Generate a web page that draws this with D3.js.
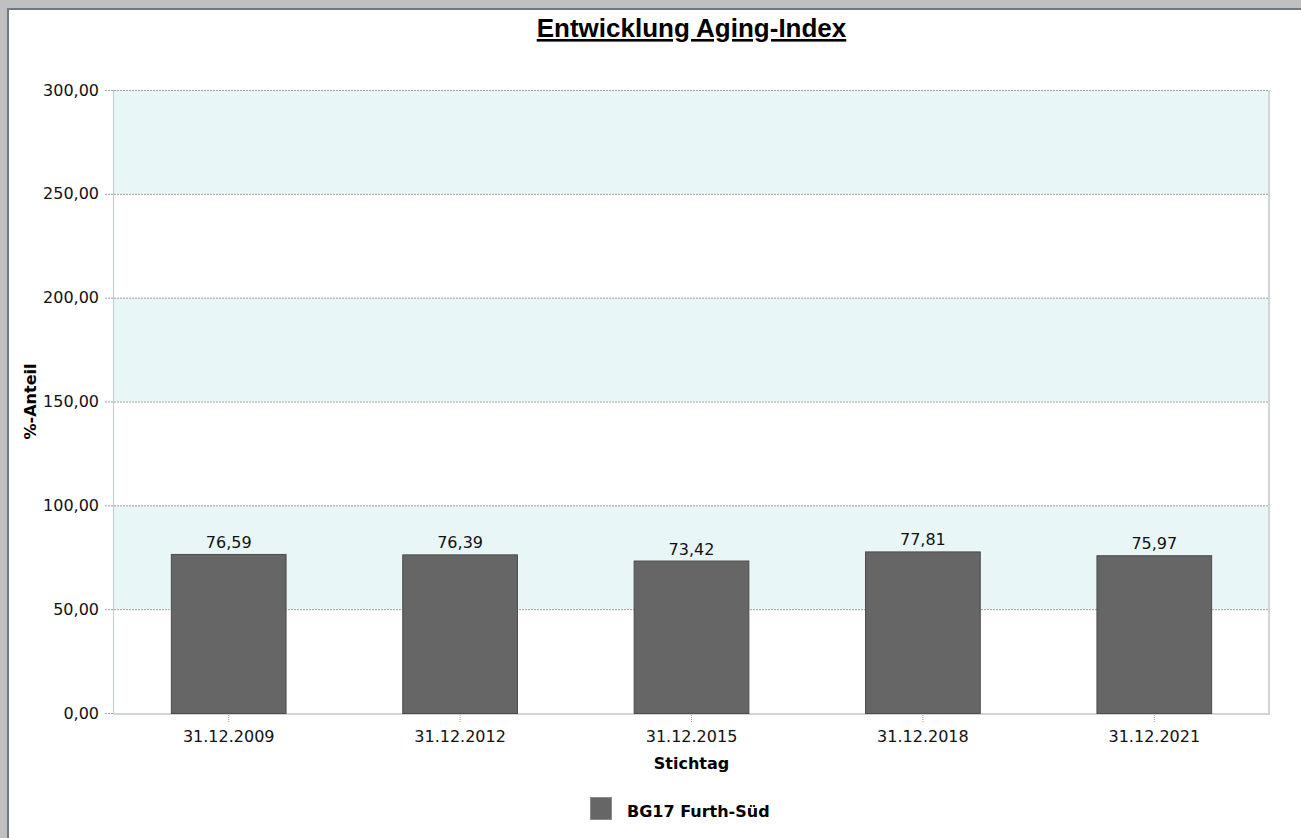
<!DOCTYPE html>
<html>
<head>
<meta charset="utf-8">
<script src="https://cdn.jsdelivr.net/npm/d3@7"></script>
<style>
  html, body { margin: 0; padding: 0; background: #fff; overflow: hidden; }
  text { font-family: "DejaVu Sans", sans-serif; }
</style>
</head>
<body>
<svg id="chart" width="1301" height="838"></svg>
<script>
// chart data
const categories = ["31.12.2009", "31.12.2012", "31.12.2015", "31.12.2018", "31.12.2021"];
const values = [76.59, 76.39, 73.42, 77.81, 75.97];
const yTicks = [0, 50, 100, 150, 200, 250, 300];
const bands = [[50, 100], [150, 200], [250, 300]];
const seriesName = "BG17 Furth-Süd";

const svg = d3.select("#chart");
const W = 1301, H = 838;
const margin = { left: 113, right: 31, top: 90, bottom: 125 };

const fmt = v => d3.format(".2f")(v).replace(".", ",");

// window frame
svg.append("rect").attr("x", 0).attr("y", 0).attr("width", W).attr("height", 8).attr("fill", "#c0c0c0");
svg.append("rect").attr("x", 0).attr("y", 0).attr("width", 7).attr("height", H).attr("fill", "#c0c0c0");
svg.append("rect").attr("x", 7).attr("y", 8).attr("width", W - 7).attr("height", 2).attr("fill", "#6b7a86");
svg.append("rect").attr("x", 7).attr("y", 8).attr("width", 2).attr("height", H - 8).attr("fill", "#6b7a86");

const x = d3.scaleBand()
  .domain(categories)
  .range([margin.left, W - margin.right])
  .paddingInner(0.5)
  .paddingOuter(0.25);

const y = d3.scaleLinear()
  .domain([0, 300])
  .range([H - margin.bottom, margin.top]);

const x0 = margin.left, x1 = W - margin.right;

// background bands
svg.append("g")
  .selectAll("rect")
  .data(bands)
  .join("rect")
  .attr("x", x0)
  .attr("width", x1 - x0)
  .attr("y", d => y(d[1]))
  .attr("height", d => y(d[0]) - y(d[1]))
  .attr("fill", "#e8f6f7");

// y axis with dotted grid lines
const yAxis = svg.append("g")
  .attr("transform", `translate(${x0},0)`)
  .call(d3.axisLeft(y).tickValues(yTicks).tickFormat(fmt).tickSize(8).tickPadding(6));
yAxis.select(".domain").remove();
yAxis.selectAll(".tick line")
  .attr("x2", x1 - x0)
  .attr("x1", -8)
  .attr("stroke", "#a0a0a0")
  .attr("stroke-dasharray", "2,1");
yAxis.selectAll(".tick text")
  .attr("font-size", 16)
  .attr("fill", "#111")
  .attr("font-family", "DejaVu Sans");

// plot borders
svg.append("line").attr("x1", x0 + 0.5).attr("x2", x0 + 0.5).attr("y1", y(300)).attr("y2", y(0))
  .attr("stroke", "#c4c9ce").attr("stroke-width", 1);
svg.append("line").attr("x1", x1 - 1).attr("x2", x1 - 1).attr("y1", y(300)).attr("y2", y(0))
  .attr("stroke", "#d2d5d8").attr("stroke-width", 2);
svg.append("line").attr("x1", x0).attr("x2", x1).attr("y1", y(0) + 1).attr("y2", y(0) + 1)
  .attr("stroke", "#d2d5d8").attr("stroke-width", 2);

// x axis
const xAxis = svg.append("g")
  .attr("transform", `translate(0,${y(0)})`)
  .call(d3.axisBottom(x).tickSize(9).tickPadding(9));
xAxis.select(".domain").remove();
xAxis.selectAll(".tick line")
  .attr("stroke", "#9a9a9a")
  .attr("stroke-dasharray", "1,1")
  .attr("y1", 2);
xAxis.selectAll(".tick text")
  .attr("font-size", 16)
  .attr("fill", "#111")
  .attr("font-family", "DejaVu Sans");

// bars
svg.append("g")
  .selectAll("rect")
  .data(values)
  .join("rect")
  .attr("x", (d, i) => x(categories[i]) + 0.5)
  .attr("y", d => y(d) + 0.5)
  .attr("width", x.bandwidth() - 1)
  .attr("height", d => y(0) - y(d))
  .attr("fill", "#666666")
  .attr("stroke", "#4a4a4a")
  .attr("stroke-width", 1);

// value labels
svg.append("g")
  .selectAll("text")
  .data(values)
  .join("text")
  .attr("x", (d, i) => x(categories[i]) + x.bandwidth() / 2)
  .attr("y", d => y(d) - 6)
  .attr("text-anchor", "middle")
  .attr("font-size", 16)
  .attr("fill", "#111")
  .text(fmt);

// title
const cx = (x0 + x1) / 2;
svg.append("text")
  .attr("x", cx)
  .attr("y", 37)
  .attr("text-anchor", "middle")
  .style("font-family", "'Liberation Sans', Arial, sans-serif")
  .attr("font-weight", "bold")
  .attr("font-size", 26)
  .attr("text-decoration", "underline")
  .attr("fill", "#000")
  .text("Entwicklung Aging-Index");

// axis titles
svg.append("text")
  .attr("x", cx)
  .attr("y", 769)
  .attr("text-anchor", "middle")
  .attr("font-weight", "bold")
  .attr("font-size", 16)
  .attr("fill", "#000")
  .text("Stichtag");

svg.append("text")
  .attr("transform", `translate(36,${(y(0) + y(300)) / 2}) rotate(-90)`)
  .attr("text-anchor", "middle")
  .attr("font-weight", "bold")
  .attr("font-size", 16)
  .attr("fill", "#000")
  .text("%-Anteil");

// legend
const legend = svg.append("g").attr("transform", "translate(590,797)");
legend.append("rect")
  .attr("x", 0.5).attr("y", 0.5)
  .attr("width", 21).attr("height", 22)
  .attr("fill", "#666666")
  .attr("stroke", "#8a8a8a");
legend.append("text")
  .attr("x", 37)
  .attr("y", 20)
  .attr("font-weight", "bold")
  .attr("font-size", 16)
  .attr("fill", "#000")
  .text(seriesName);
</script>
</body>
</html>
